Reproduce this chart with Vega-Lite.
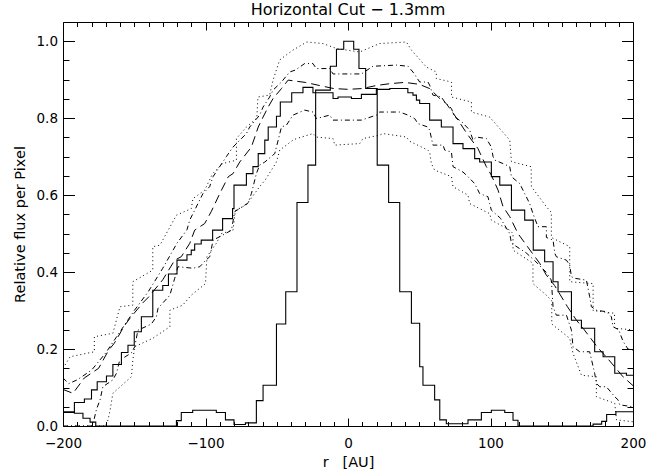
{
  "$schema": "https://vega.github.io/schema/vega-lite/v6.json",
  "width": 570,
  "height": 404,
  "autosize": {"type": "none"},
  "padding": {"left": 63, "top": 22, "right": 36, "bottom": 46},
  "background": "white",
  "title": {"text": "Horizontal Cut − 1.3mm", "font": "DejaVu Sans", "fontSize": 16, "fontWeight": "normal", "color": "black", "offset": 4, "anchor": "middle"},
  "config": {
    "view": {"stroke": "black", "strokeWidth": 1},
    "axis": {"domain": false, "grid": false, "tickColor": "black", "tickWidth": 1, "labelColor": "black", "labelFont": "DejaVu Sans", "labelFontSize": 13.5, "titleFont": "DejaVu Sans", "titleFontSize": 14.5, "titleFontWeight": "normal", "titleColor": "black", "labelOverlap": false, "labelFlush": false}
  },
  "data": {"values": [
{"s":"N","x":-200,"y":0.037},{"s":"N","x":-192,"y":0.033},{"s":"N","x":-186,"y":0.02},{"s":"N","x":-181,"y":0.01},{"s":"N","x":-177,"y":0.0},{"s":"N","x":-120.4,"y":0.014},{"s":"N","x":-117,"y":0.035},{"s":"N","x":-109,"y":0.041},{"s":"N","x":-92.4,"y":0.035},{"s":"N","x":-86,"y":0.016},{"s":"N","x":-80,"y":0.004},{"s":"N","x":-72,"y":0.008},{"s":"N","x":-64.3,"y":0.066},{"s":"N","x":-59.6,"y":0.106},{"s":"N","x":-50.2,"y":0.265},{"s":"N","x":-43.7,"y":0.349},{"s":"N","x":-35.8,"y":0.581},{"s":"N","x":-28.1,"y":0.678},{"s":"N","x":-22.7,"y":0.873},{"s":"N","x":-12.4,"y":0.935},{"s":"N","x":-8.1,"y":0.979},{"s":"N","x":-3,"y":1.0},{"s":"N","x":4,"y":0.979},{"s":"N","x":7.7,"y":0.929},{"s":"N","x":12.4,"y":0.877},{"s":"N","x":20.5,"y":0.678},{"s":"N","x":28.5,"y":0.581},{"s":"N","x":36.3,"y":0.349},{"s":"N","x":44.5,"y":0.267},{"s":"N","x":50.3,"y":0.154},{"s":"N","x":52.6,"y":0.106},{"s":"N","x":60.8,"y":0.068},{"s":"N","x":64.4,"y":0.016},{"s":"N","x":69,"y":0.006},{"s":"N","x":84.2,"y":0.016},{"s":"N","x":93.6,"y":0.035},{"s":"N","x":100.6,"y":0.041},{"s":"N","x":110,"y":0.035},{"s":"N","x":115.8,"y":0.015},{"s":"N","x":119.3,"y":0.0},{"s":"N","x":172,"y":0.005},{"s":"N","x":178,"y":0.012},{"s":"N","x":181.5,"y":0.03},{"s":"N","x":188,"y":0.037},{"s":"N","x":200,"y":0.037},
{"s":"S","x":-200,"y":0.035},{"s":"S","x":-192,"y":0.061},{"s":"S","x":-185,"y":0.07},{"s":"S","x":-180,"y":0.094},{"s":"S","x":-176,"y":0.115},{"s":"S","x":-169.5,"y":0.13},{"s":"S","x":-165,"y":0.16},{"s":"S","x":-159,"y":0.191},{"s":"S","x":-154.4,"y":0.21},{"s":"S","x":-150,"y":0.245},{"s":"S","x":-145,"y":0.284},{"s":"S","x":-137,"y":0.353},{"s":"S","x":-130,"y":0.365},{"s":"S","x":-126,"y":0.395},{"s":"S","x":-120,"y":0.431},{"s":"S","x":-113,"y":0.445},{"s":"S","x":-110,"y":0.457},{"s":"S","x":-107.6,"y":0.473},{"s":"S","x":-103,"y":0.483},{"s":"S","x":-95,"y":0.509},{"s":"S","x":-88,"y":0.539},{"s":"S","x":-81,"y":0.565},{"s":"S","x":-80,"y":0.626},{"s":"S","x":-71.3,"y":0.656},{"s":"S","x":-66.7,"y":0.674},{"s":"S","x":-63,"y":0.708},{"s":"S","x":-58.4,"y":0.743},{"s":"S","x":-56,"y":0.777},{"s":"S","x":-50.2,"y":0.805},{"s":"S","x":-47.5,"y":0.842},{"s":"S","x":-39.5,"y":0.866},{"s":"S","x":-31.6,"y":0.88},{"s":"S","x":-24.6,"y":0.866},{"s":"S","x":-10.5,"y":0.851},{"s":"S","x":-7,"y":0.855},{"s":"S","x":2.4,"y":0.851},{"s":"S","x":9.4,"y":0.862},{"s":"S","x":19.9,"y":0.875},{"s":"S","x":29.3,"y":0.877},{"s":"S","x":42,"y":0.866},{"s":"S","x":45.6,"y":0.86},{"s":"S","x":48,"y":0.847},{"s":"S","x":50.3,"y":0.838},{"s":"S","x":57.3,"y":0.795},{"s":"S","x":65.5,"y":0.777},{"s":"S","x":73.7,"y":0.734},{"s":"S","x":80.7,"y":0.721},{"s":"S","x":88.9,"y":0.695},{"s":"S","x":92.4,"y":0.686},{"s":"S","x":100.6,"y":0.648},{"s":"S","x":106.5,"y":0.626},{"s":"S","x":114.7,"y":0.561},{"s":"S","x":124,"y":0.535},{"s":"S","x":130,"y":0.457},{"s":"S","x":138,"y":0.427},{"s":"S","x":143.9,"y":0.375},{"s":"S","x":147.4,"y":0.349},{"s":"S","x":156.8,"y":0.275},{"s":"S","x":163.8,"y":0.254},{"s":"S","x":173.1,"y":0.193},{"s":"S","x":179,"y":0.18},{"s":"S","x":187.2,"y":0.137},{"s":"S","x":195.4,"y":0.132},{"s":"S","x":200,"y":0.132},
{"s":"LD","x":-200,"y":0.095},{"s":"LD","x":-193,"y":0.085},{"s":"LD","x":-185,"y":0.125},{"s":"LD","x":-175,"y":0.15},{"s":"LD","x":-168,"y":0.197},{"s":"LD","x":-164,"y":0.215},{"s":"LD","x":-157,"y":0.26},{"s":"LD","x":-153,"y":0.28},{"s":"LD","x":-144,"y":0.32},{"s":"LD","x":-140,"y":0.335},{"s":"LD","x":-130,"y":0.38},{"s":"LD","x":-121.6,"y":0.431},{"s":"LD","x":-117,"y":0.44},{"s":"LD","x":-111,"y":0.475},{"s":"LD","x":-107.6,"y":0.509},{"s":"LD","x":-100.6,"y":0.526},{"s":"LD","x":-96,"y":0.557},{"s":"LD","x":-90,"y":0.604},{"s":"LD","x":-84,"y":0.648},{"s":"LD","x":-80.7,"y":0.656},{"s":"LD","x":-76,"y":0.686},{"s":"LD","x":-67.8,"y":0.725},{"s":"LD","x":-63,"y":0.777},{"s":"LD","x":-59.6,"y":0.803},{"s":"LD","x":-56,"y":0.829},{"s":"LD","x":-52.6,"y":0.851},{"s":"LD","x":-46.7,"y":0.877},{"s":"LD","x":-42,"y":0.899},{"s":"LD","x":-30,"y":0.893},{"s":"LD","x":-20,"y":0.885},{"s":"LD","x":-10,"y":0.877},{"s":"LD","x":0,"y":0.875},{"s":"LD","x":10,"y":0.877},{"s":"LD","x":20,"y":0.885},{"s":"LD","x":30,"y":0.89},{"s":"LD","x":40,"y":0.893},{"s":"LD","x":50,"y":0.888},{"s":"LD","x":57.3,"y":0.877},{"s":"LD","x":64.4,"y":0.851},{"s":"LD","x":69,"y":0.838},{"s":"LD","x":77.2,"y":0.795},{"s":"LD","x":84.2,"y":0.756},{"s":"LD","x":91.2,"y":0.721},{"s":"LD","x":97.1,"y":0.674},{"s":"LD","x":100.6,"y":0.652},{"s":"LD","x":105.3,"y":0.613},{"s":"LD","x":108.8,"y":0.57},{"s":"LD","x":113.5,"y":0.544},{"s":"LD","x":119.3,"y":0.5},{"s":"LD","x":125.2,"y":0.47},{"s":"LD","x":134.5,"y":0.423},{"s":"LD","x":139.2,"y":0.392},{"s":"LD","x":145,"y":0.365},{"s":"LD","x":154,"y":0.31},{"s":"LD","x":160.3,"y":0.275},{"s":"LD","x":165,"y":0.254},{"s":"LD","x":175,"y":0.205},{"s":"LD","x":183,"y":0.172},{"s":"LD","x":193,"y":0.128},{"s":"LD","x":200,"y":0.105},
{"s":"DU","x":-200,"y":0.125},{"s":"DU","x":-196,"y":0.11},{"s":"DU","x":-190,"y":0.12},{"s":"DU","x":-180,"y":0.145},{"s":"DU","x":-170,"y":0.19},{"s":"DU","x":-160,"y":0.245},{"s":"DU","x":-150,"y":0.3},{"s":"DU","x":-140,"y":0.35},{"s":"DU","x":-130,"y":0.41},{"s":"DU","x":-120,"y":0.475},{"s":"DU","x":-113,"y":0.51},{"s":"DU","x":-111.1,"y":0.535},{"s":"DU","x":-108.8,"y":0.552},{"s":"DU","x":-104.1,"y":0.587},{"s":"DU","x":-101.8,"y":0.604},{"s":"DU","x":-97.1,"y":0.622},{"s":"DU","x":-94.7,"y":0.648},{"s":"DU","x":-85.4,"y":0.7},{"s":"DU","x":-80.7,"y":0.725},{"s":"DU","x":-71.3,"y":0.76},{"s":"DU","x":-69,"y":0.777},{"s":"DU","x":-62,"y":0.808},{"s":"DU","x":-59.6,"y":0.829},{"s":"DU","x":-55,"y":0.855},{"s":"DU","x":-52.6,"y":0.873},{"s":"DU","x":-46.7,"y":0.894},{"s":"DU","x":-41,"y":0.92},{"s":"DU","x":-37,"y":0.925},{"s":"DU","x":-30.4,"y":0.942},{"s":"DU","x":-24.6,"y":0.942},{"s":"DU","x":-22.2,"y":0.929},{"s":"DU","x":-12.8,"y":0.929},{"s":"DU","x":-10.5,"y":0.915},{"s":"DU","x":9.4,"y":0.915},{"s":"DU","x":17.5,"y":0.935},{"s":"DU","x":34,"y":0.938},{"s":"DU","x":42.1,"y":0.935},{"s":"DU","x":45.6,"y":0.92},{"s":"DU","x":50.3,"y":0.894},{"s":"DU","x":56.1,"y":0.894},{"s":"DU","x":57.3,"y":0.886},{"s":"DU","x":59.6,"y":0.86},{"s":"DU","x":65.5,"y":0.855},{"s":"DU","x":67.9,"y":0.842},{"s":"DU","x":72.6,"y":0.825},{"s":"DU","x":74.9,"y":0.803},{"s":"DU","x":80,"y":0.79},{"s":"DU","x":85.4,"y":0.769},{"s":"DU","x":87.7,"y":0.743},{"s":"DU","x":90.1,"y":0.751},{"s":"DU","x":97.1,"y":0.747},{"s":"DU","x":100.6,"y":0.725},{"s":"DU","x":101.8,"y":0.7},{"s":"DU","x":103,"y":0.691},{"s":"DU","x":108.8,"y":0.682},{"s":"DU","x":113.5,"y":0.674},{"s":"DU","x":114.7,"y":0.648},{"s":"DU","x":120.5,"y":0.63},{"s":"DU","x":124,"y":0.604},{"s":"DU","x":127.5,"y":0.578},{"s":"DU","x":129.8,"y":0.552},{"s":"DU","x":133.3,"y":0.518},{"s":"DU","x":139.2,"y":0.518},{"s":"DU","x":139.2,"y":0.49},{"s":"DU","x":143.9,"y":0.483},{"s":"DU","x":145.1,"y":0.449},{"s":"DU","x":146.2,"y":0.44},{"s":"DU","x":153.3,"y":0.431},{"s":"DU","x":155.6,"y":0.418},{"s":"DU","x":156.8,"y":0.388},{"s":"DU","x":159,"y":0.384},{"s":"DU","x":167.3,"y":0.379},{"s":"DU","x":169.6,"y":0.336},{"s":"DU","x":170.8,"y":0.31},{"s":"DU","x":174.3,"y":0.301},{"s":"DU","x":181.3,"y":0.297},{"s":"DU","x":184.8,"y":0.284},{"s":"DU","x":186,"y":0.258},{"s":"DU","x":190,"y":0.25},{"s":"DU","x":193,"y":0.22},{"s":"DU","x":196.5,"y":0.2},{"s":"DU","x":200,"y":0.197},
{"s":"DL","x":-200,"y":0.0},{"s":"DL","x":-180,"y":0.0},{"s":"DL","x":-178,"y":0.02},{"s":"DL","x":-176.6,"y":0.042},{"s":"DL","x":-174,"y":0.068},{"s":"DL","x":-172,"y":0.102},{"s":"DL","x":-165,"y":0.12},{"s":"DL","x":-162.5,"y":0.137},{"s":"DL","x":-160.2,"y":0.171},{"s":"DL","x":-152,"y":0.19},{"s":"DL","x":-149.7,"y":0.206},{"s":"DL","x":-147.4,"y":0.249},{"s":"DL","x":-138,"y":0.265},{"s":"DL","x":-134.5,"y":0.284},{"s":"DL","x":-133.3,"y":0.306},{"s":"DL","x":-125,"y":0.34},{"s":"DL","x":-121.6,"y":0.384},{"s":"DL","x":-119.3,"y":0.414},{"s":"DL","x":-108.8,"y":0.41},{"s":"DL","x":-104,"y":0.414},{"s":"DL","x":-100,"y":0.43},{"s":"DL","x":-97,"y":0.44},{"s":"DL","x":-94.7,"y":0.483},{"s":"DL","x":-86,"y":0.5},{"s":"DL","x":-81.8,"y":0.509},{"s":"DL","x":-79.5,"y":0.557},{"s":"DL","x":-70,"y":0.58},{"s":"DL","x":-67.8,"y":0.604},{"s":"DL","x":-64.3,"y":0.656},{"s":"DL","x":-62,"y":0.678},{"s":"DL","x":-58.4,"y":0.686},{"s":"DL","x":-51.4,"y":0.708},{"s":"DL","x":-49,"y":0.743},{"s":"DL","x":-46.7,"y":0.777},{"s":"DL","x":-43.2,"y":0.782},{"s":"DL","x":-38.6,"y":0.808},{"s":"DL","x":-30.4,"y":0.821},{"s":"DL","x":-24.6,"y":0.816},{"s":"DL","x":-22.2,"y":0.799},{"s":"DL","x":-12.8,"y":0.808},{"s":"DL","x":-10.5,"y":0.795},{"s":"DL","x":9.4,"y":0.795},{"s":"DL","x":19.9,"y":0.808},{"s":"DL","x":22.2,"y":0.816},{"s":"DL","x":36.3,"y":0.816},{"s":"DL","x":42.1,"y":0.808},{"s":"DL","x":46.8,"y":0.799},{"s":"DL","x":49.1,"y":0.786},{"s":"DL","x":56.1,"y":0.777},{"s":"DL","x":57.3,"y":0.769},{"s":"DL","x":59.6,"y":0.73},{"s":"DL","x":66.7,"y":0.73},{"s":"DL","x":67.9,"y":0.717},{"s":"DL","x":72.6,"y":0.712},{"s":"DL","x":73.7,"y":0.674},{"s":"DL","x":80.7,"y":0.66},{"s":"DL","x":84.2,"y":0.648},{"s":"DL","x":88.9,"y":0.63},{"s":"DL","x":92.4,"y":0.604},{"s":"DL","x":98.2,"y":0.596},{"s":"DL","x":99.4,"y":0.578},{"s":"DL","x":100.6,"y":0.561},{"s":"DL","x":107,"y":0.54},{"s":"DL","x":113.5,"y":0.5},{"s":"DL","x":114.7,"y":0.475},{"s":"DL","x":125,"y":0.45},{"s":"DL","x":131,"y":0.43},{"s":"DL","x":139,"y":0.4},{"s":"DL","x":142.7,"y":0.379},{"s":"DL","x":143.9,"y":0.31},{"s":"DL","x":146.2,"y":0.288},{"s":"DL","x":153.3,"y":0.288},{"s":"DL","x":156.8,"y":0.249},{"s":"DL","x":157.9,"y":0.206},{"s":"DL","x":162.6,"y":0.193},{"s":"DL","x":169.6,"y":0.193},{"s":"DL","x":173.1,"y":0.137},{"s":"DL","x":174.3,"y":0.111},{"s":"DL","x":176.7,"y":0.102},{"s":"DL","x":181.3,"y":0.102},{"s":"DL","x":187.2,"y":0.076},{"s":"DL","x":189.5,"y":0.068},{"s":"DL","x":190.7,"y":0.055},{"s":"DL","x":200,"y":0.05},
{"s":"OU","x":-200,"y":0.15},{"s":"OU","x":-195,"y":0.18},{"s":"OU","x":-178,"y":0.193},{"s":"OU","x":-178,"y":0.232},{"s":"OU","x":-165,"y":0.241},{"s":"OU","x":-160,"y":0.31},{"s":"OU","x":-151,"y":0.314},{"s":"OU","x":-151,"y":0.375},{"s":"OU","x":-137,"y":0.405},{"s":"OU","x":-137,"y":0.466},{"s":"OU","x":-132,"y":0.47},{"s":"OU","x":-127.5,"y":0.5},{"s":"OU","x":-120.4,"y":0.548},{"s":"OU","x":-110,"y":0.565},{"s":"OU","x":-108.8,"y":0.591},{"s":"OU","x":-100.6,"y":0.613},{"s":"OU","x":-95,"y":0.656},{"s":"OU","x":-88,"y":0.682},{"s":"OU","x":-78.3,"y":0.691},{"s":"OU","x":-78.3,"y":0.747},{"s":"OU","x":-71.3,"y":0.777},{"s":"OU","x":-64,"y":0.8},{"s":"OU","x":-63.2,"y":0.855},{"s":"OU","x":-55,"y":0.86},{"s":"OU","x":-52.6,"y":0.899},{"s":"OU","x":-48,"y":0.951},{"s":"OU","x":-46.7,"y":0.955},{"s":"OU","x":-38.6,"y":0.977},{"s":"OU","x":-29,"y":0.998},{"s":"OU","x":-17.5,"y":0.994},{"s":"OU","x":-8,"y":0.981},{"s":"OU","x":8.2,"y":0.972},{"s":"OU","x":22.2,"y":0.994},{"s":"OU","x":41,"y":0.998},{"s":"OU","x":44.5,"y":0.977},{"s":"OU","x":55,"y":0.933},{"s":"OU","x":62,"y":0.92},{"s":"OU","x":62,"y":0.903},{"s":"OU","x":72.6,"y":0.894},{"s":"OU","x":72.6,"y":0.855},{"s":"OU","x":86.6,"y":0.842},{"s":"OU","x":86.6,"y":0.816},{"s":"OU","x":99.4,"y":0.803},{"s":"OU","x":113.5,"y":0.743},{"s":"OU","x":114.7,"y":0.687},{"s":"OU","x":128.5,"y":0.674},{"s":"OU","x":128.7,"y":0.622},{"s":"OU","x":139.2,"y":0.57},{"s":"OU","x":142.7,"y":0.555},{"s":"OU","x":142.7,"y":0.49},{"s":"OU","x":155.6,"y":0.466},{"s":"OU","x":155.6,"y":0.375},{"s":"OU","x":172,"y":0.37},{"s":"OU","x":172,"y":0.3},{"s":"OU","x":187,"y":0.293},{"s":"OU","x":187,"y":0.254},{"s":"OU","x":200,"y":0.25},
{"s":"OL","x":-200,"y":0.0},{"s":"OL","x":-170,"y":0.0},{"s":"OL","x":-168.4,"y":0.016},{"s":"OL","x":-167,"y":0.04},{"s":"OL","x":-165,"y":0.085},{"s":"OL","x":-152,"y":0.128},{"s":"OL","x":-151,"y":0.171},{"s":"OL","x":-149.7,"y":0.206},{"s":"OL","x":-137,"y":0.228},{"s":"OL","x":-125,"y":0.258},{"s":"OL","x":-125,"y":0.301},{"s":"OL","x":-116,"y":0.314},{"s":"OL","x":-110,"y":0.34},{"s":"OL","x":-104,"y":0.358},{"s":"OL","x":-100,"y":0.37},{"s":"OL","x":-99,"y":0.44},{"s":"OL","x":-92.4,"y":0.475},{"s":"OL","x":-88.9,"y":0.5},{"s":"OL","x":-80.7,"y":0.509},{"s":"OL","x":-79,"y":0.56},{"s":"OL","x":-71.3,"y":0.575},{"s":"OL","x":-62,"y":0.622},{"s":"OL","x":-58,"y":0.64},{"s":"OL","x":-50.2,"y":0.686},{"s":"OL","x":-47.9,"y":0.717},{"s":"OL","x":-38.6,"y":0.743},{"s":"OL","x":-36.2,"y":0.747},{"s":"OL","x":-24.6,"y":0.76},{"s":"OL","x":-22.2,"y":0.751},{"s":"OL","x":-10.5,"y":0.747},{"s":"OL","x":-9.3,"y":0.73},{"s":"OL","x":8.2,"y":0.734},{"s":"OL","x":10.5,"y":0.747},{"s":"OL","x":22.2,"y":0.756},{"s":"OL","x":24.6,"y":0.76},{"s":"OL","x":41,"y":0.751},{"s":"OL","x":43.3,"y":0.74},{"s":"OL","x":56,"y":0.717},{"s":"OL","x":57.3,"y":0.712},{"s":"OL","x":58.5,"y":0.682},{"s":"OL","x":60.8,"y":0.665},{"s":"OL","x":72.6,"y":0.648},{"s":"OL","x":73.7,"y":0.622},{"s":"OL","x":84.2,"y":0.6},{"s":"OL","x":85.4,"y":0.578},{"s":"OL","x":99.4,"y":0.552},{"s":"OL","x":100.6,"y":0.535},{"s":"OL","x":113.5,"y":0.509},{"s":"OL","x":115.8,"y":0.5},{"s":"OL","x":115.8,"y":0.457},{"s":"OL","x":129.8,"y":0.423},{"s":"OL","x":129.8,"y":0.37},{"s":"OL","x":139.2,"y":0.34},{"s":"OL","x":143,"y":0.325},{"s":"OL","x":143,"y":0.265},{"s":"OL","x":155.6,"y":0.228},{"s":"OL","x":157.9,"y":0.189},{"s":"OL","x":163.8,"y":0.132},{"s":"OL","x":174.3,"y":0.128},{"s":"OL","x":174.3,"y":0.076},{"s":"OL","x":187.2,"y":0.059},{"s":"OL","x":188.4,"y":0.016},{"s":"OL","x":200,"y":0.011}
  ]},
  "resolve": {"axis": {"x": "independent", "y": "independent"}},
  "layer": [
    {
      "transform": [{"filter": "datum.s === 'N' || datum.s === 'S'"}],
      "mark": {"type": "line", "interpolate": "step-after", "color": "black", "strokeWidth": 1.1, "clip": true},
      "encoding": {
        "x": {"field": "x", "type": "quantitative", "scale": {"domain": [-200, 200], "nice": false, "zero": false},
          "axis": {"orient": "bottom", "values": [-200,-190,-180,-170,-160,-150,-140,-130,-120,-110,-100,-90,-80,-70,-60,-50,-40,-30,-20,-10,0,10,20,30,40,50,60,70,80,90,100,110,120,130,140,150,160,170,180,190,200],
            "tickSize": {"condition": {"test": "datum.value % 100 === 0", "value": -8}, "value": -4.5},
            "labelExpr": "datum.value % 100 === 0 ? datum.label : ''",
            "labelPadding": 18, "title": "r\u00a0\u00a0\u00a0[AU]", "titlePadding": 2}},
        "y": {"field": "y", "type": "quantitative", "scale": {"domain": [0, 1.05], "nice": false, "zero": false},
          "axis": {"orient": "left", "values": [0,0.05,0.1,0.15,0.2,0.25,0.3,0.35,0.4,0.45,0.5,0.55,0.6,0.65,0.7,0.75,0.8,0.85,0.9,0.95,1.0],
            "tickSize": {"condition": {"test": "abs(datum.value*5 - round(datum.value*5)) < 0.001", "value": -11.5}, "value": -6},
            "labelExpr": "abs(datum.value*5 - round(datum.value*5)) < 0.001 ? format(datum.value, '.1f') : ''",
            "labelPadding": 17, "title": "Relative flux per Pixel", "titlePadding": 9}},
        "detail": {"field": "s", "type": "nominal"}
      }
    },
    {
      "transform": [{"filter": "datum.s !== 'N' && datum.s !== 'S'"}],
      "mark": {"type": "line", "interpolate": "linear", "color": "black", "strokeWidth": 1, "clip": true},
      "encoding": {
        "x": {"field": "x", "type": "quantitative", "scale": {"domain": [-200, 200], "nice": false, "zero": false},
          "axis": {"orient": "top", "values": [-200,-190,-180,-170,-160,-150,-140,-130,-120,-110,-100,-90,-80,-70,-60,-50,-40,-30,-20,-10,0,10,20,30,40,50,60,70,80,90,100,110,120,130,140,150,160,170,180,190,200],
            "tickSize": {"condition": {"test": "datum.value % 100 === 0", "value": -8}, "value": -4.5},
            "labels": false, "title": null}},
        "y": {"field": "y", "type": "quantitative", "scale": {"domain": [0, 1.05], "nice": false, "zero": false},
          "axis": {"orient": "right", "values": [0,0.05,0.1,0.15,0.2,0.25,0.3,0.35,0.4,0.45,0.5,0.55,0.6,0.65,0.7,0.75,0.8,0.85,0.9,0.95,1.0],
            "tickSize": {"condition": {"test": "abs(datum.value*5 - round(datum.value*5)) < 0.001", "value": -11.5}, "value": -6},
            "labels": false, "title": null}},
        "strokeDash": {"field": "s", "type": "nominal", "legend": null,
          "scale": {"domain": ["LD", "DU", "DL", "OU", "OL"], "range": [[9, 5], [5, 3, 1, 3], [5, 3, 1, 3], [1, 3], [1, 3]]}}
      }
    }
  ]
}
